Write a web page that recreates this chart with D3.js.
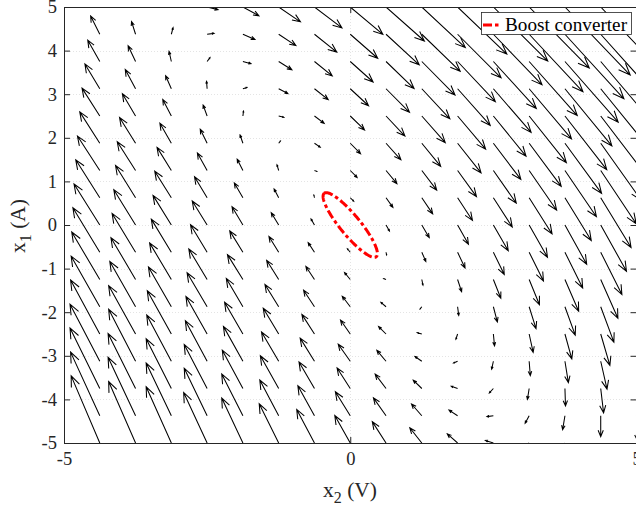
<!DOCTYPE html>
<html><head><meta charset="utf-8">
<script src="https://cdn.jsdelivr.net/npm/d3@7"></script>
<style>body{margin:0;background:#fff}svg{display:block}</style>
</head><body>
<svg id="chart" width="636" height="511"></svg>
<script>
// grid of the quiver plot (x2 horizontal, x1 vertical)
const gridX2 = [-5,-4.375,-3.75,-3.125,-2.5,-1.875,-1.25,-0.625,0,0.625,1.25,1.875,2.5,3.125,3.75,4.375,5];
const gridX1 = [-5,-4.375,-3.75,-3.125,-2.5,-1.875,-1.25,-0.625,0,0.625,1.25,1.875,2.5,3.125,3.75,4.375,5];
// arrow components (data units), rows follow gridX1 (bottom to top), columns follow gridX2
const arrowU = [
[-0.54,-0.50,-0.47,-0.44,-0.41,-0.37,-0.34,-0.31,-0.27,-0.24,-0.21,-0.18,-0.14,-0.11,-0.08,-0.05,-0.01],
[-0.55,-0.51,-0.48,-0.44,-0.40,-0.37,-0.33,-0.29,-0.26,-0.22,-0.18,-0.15,-0.11,-0.07,-0.04,0.00,0.04],
[-0.56,-0.52,-0.48,-0.44,-0.40,-0.36,-0.32,-0.27,-0.23,-0.19,-0.15,-0.11,-0.07,-0.03,0.01,0.05,0.09],
[-0.56,-0.52,-0.47,-0.43,-0.38,-0.34,-0.30,-0.25,-0.21,-0.16,-0.12,-0.07,-0.03,0.02,0.06,0.11,0.15],
[-0.56,-0.51,-0.47,-0.42,-0.37,-0.32,-0.27,-0.22,-0.17,-0.13,-0.08,-0.03,0.02,0.07,0.12,0.16,0.21],
[-0.56,-0.50,-0.45,-0.40,-0.35,-0.29,-0.24,-0.19,-0.14,-0.09,-0.03,0.02,0.07,0.12,0.18,0.23,0.28],
[-0.55,-0.49,-0.43,-0.38,-0.32,-0.27,-0.21,-0.15,-0.10,-0.04,0.02,0.07,0.13,0.18,0.24,0.30,0.35],
[-0.53,-0.47,-0.41,-0.35,-0.29,-0.23,-0.17,-0.11,-0.05,0.01,0.07,0.13,0.19,0.25,0.31,0.37,0.43],
[-0.51,-0.45,-0.38,-0.32,-0.26,-0.19,-0.13,-0.06,0.00,0.06,0.13,0.19,0.26,0.32,0.38,0.45,0.51],
[-0.49,-0.42,-0.35,-0.29,-0.22,-0.15,-0.08,-0.01,0.06,0.12,0.19,0.26,0.33,0.40,0.46,0.53,0.60],
[-0.46,-0.39,-0.32,-0.25,-0.17,-0.10,-0.03,0.04,0.12,0.19,0.26,0.33,0.40,0.48,0.55,0.62,0.69],
[-0.43,-0.35,-0.28,-0.20,-0.12,-0.05,0.03,0.10,0.18,0.26,0.33,0.41,0.48,0.56,0.64,0.71,0.79],
[-0.39,-0.31,-0.23,-0.15,-0.07,0.01,0.09,0.17,0.25,0.33,0.41,0.49,0.57,0.65,0.73,0.81,0.89],
[-0.35,-0.26,-0.18,-0.10,-0.01,0.07,0.16,0.24,0.32,0.41,0.49,0.57,0.66,0.74,0.82,0.91,0.99],
[-0.30,-0.21,-0.13,-0.04,0.05,0.14,0.23,0.31,0.40,0.49,0.58,0.66,0.75,0.84,0.93,1.01,1.10],
[-0.25,-0.16,-0.07,0.03,0.12,0.21,0.30,0.39,0.48,0.58,0.67,0.76,0.85,0.94,1.03,1.12,1.22],
[-0.19,-0.10,0.00,0.09,0.19,0.28,0.38,0.48,0.57,0.67,0.76,0.86,0.95,1.05,1.14,1.24,1.34]
];
const arrowV = [
[1.66,1.54,1.41,1.29,1.16,1.03,0.90,0.77,0.63,0.49,0.35,0.21,0.06,-0.09,-0.24,-0.39,-0.55],
[1.58,1.46,1.34,1.21,1.09,0.96,0.82,0.69,0.55,0.41,0.27,0.13,-0.02,-0.17,-0.32,-0.48,-0.63],
[1.51,1.39,1.26,1.14,1.01,0.88,0.75,0.61,0.47,0.33,0.19,0.05,-0.10,-0.25,-0.40,-0.56,-0.72],
[1.44,1.31,1.19,1.06,0.93,0.80,0.67,0.53,0.39,0.25,0.11,-0.04,-0.18,-0.33,-0.49,-0.64,-0.80],
[1.36,1.24,1.11,0.99,0.86,0.73,0.59,0.45,0.32,0.17,0.03,-0.12,-0.27,-0.42,-0.57,-0.72,-0.88],
[1.29,1.16,1.04,0.91,0.78,0.65,0.51,0.38,0.24,0.10,-0.05,-0.20,-0.35,-0.50,-0.65,-0.81,-0.97],
[1.21,1.09,0.96,0.84,0.70,0.57,0.44,0.30,0.16,0.02,-0.13,-0.28,-0.43,-0.58,-0.73,-0.89,-1.05],
[1.14,1.02,0.89,0.76,0.63,0.49,0.36,0.22,0.08,-0.06,-0.21,-0.36,-0.51,-0.66,-0.82,-0.97,-1.13],
[1.07,0.94,0.81,0.68,0.55,0.42,0.28,0.14,0.00,-0.14,-0.29,-0.44,-0.59,-0.74,-0.90,-1.06,-1.22],
[0.99,0.87,0.74,0.61,0.48,0.34,0.20,0.06,-0.08,-0.22,-0.37,-0.52,-0.67,-0.83,-0.98,-1.14,-1.30],
[0.92,0.79,0.66,0.53,0.40,0.26,0.13,-0.02,-0.16,-0.30,-0.45,-0.60,-0.75,-0.91,-1.06,-1.22,-1.39],
[0.84,0.72,0.59,0.46,0.32,0.19,0.05,-0.09,-0.24,-0.38,-0.53,-0.68,-0.83,-0.99,-1.15,-1.31,-1.47],
[0.77,0.64,0.51,0.38,0.25,0.11,-0.03,-0.17,-0.32,-0.46,-0.61,-0.76,-0.92,-1.07,-1.23,-1.39,-1.55],
[0.70,0.57,0.44,0.30,0.17,0.03,-0.11,-0.25,-0.39,-0.54,-0.69,-0.84,-1.00,-1.15,-1.31,-1.47,-1.64],
[0.62,0.49,0.36,0.23,0.09,-0.05,-0.19,-0.33,-0.47,-0.62,-0.77,-0.92,-1.08,-1.24,-1.39,-1.56,-1.72],
[0.55,0.42,0.29,0.15,0.02,-0.12,-0.26,-0.41,-0.55,-0.70,-0.85,-1.00,-1.16,-1.32,-1.48,-1.64,-1.80],
[0.47,0.34,0.21,0.08,-0.06,-0.20,-0.34,-0.48,-0.63,-0.78,-0.93,-1.08,-1.24,-1.40,-1.56,-1.72,-1.89]
];
const xTicks = [-5, 0, 5];
const yTicks = [-5,-4,-3,-2,-1,0,1,2,3,4,5];
// ellipse: centre and two conjugate semi-axis vectors (data units)
const ellipseCenter = [0, 0];
const ellipseAxisA = [-0.455, 0.727];
const ellipseAxisB = [0.135, 0.145];
const legendLabel = "Boost converter";

const FONT = "'Liberation Serif','Times New Roman',serif";
const AX = "#262626";
const svg = d3.select("#chart");
const L = 64, R = 636.5, T = 7, B = 443;
const x = d3.scaleLinear().domain([-5, 5]).range([L, R]);
const y = d3.scaleLinear().domain([-5, 5]).range([B, T]);

svg.append("defs").append("clipPath").attr("id", "clip")
  .append("rect").attr("x", L).attr("y", T).attr("width", R - L).attr("height", B - T);

// grid
const grid = svg.append("g").attr("stroke", "#e4e4e4").attr("stroke-width", 1).attr("stroke-dasharray", "1,2");
grid.selectAll("line.h").data(yTicks).join("line").attr("class", "h")
  .attr("x1", L).attr("x2", R).attr("y1", d => Math.round(y(d)) + 0.5).attr("y2", d => Math.round(y(d)) + 0.5);
grid.selectAll("line.v").data(xTicks).join("line").attr("class", "v")
  .attr("y1", T).attr("y2", B).attr("x1", d => Math.round(x(d)) + 0.5).attr("x2", d => Math.round(x(d)) + 0.5);

// quiver arrows
const arrows = [];
gridX1.forEach((g1, j) => gridX2.forEach((g2, i) => {
  arrows.push({x2: g2, x1: g1, u: arrowU[j][i], v: arrowV[j][i]});
}));
const HALF = 22 * Math.PI / 180;
function arrowPath(d) {
  const x0 = x(d.x2), y0 = y(d.x1), xe = x(d.x2 + d.u), ye = y(d.x1 + d.v);
  const dx = xe - x0, dy = ye - y0, len = Math.hypot(dx, dy);
  let p = `M${x0},${y0}L${xe},${ye}`;
  if (len > 0.2) {
    const h = Math.min(0.33 * len, 8 + 0.05 * len);
    const a = Math.atan2(dy, dx);
    const bx1 = xe - h * Math.cos(a - HALF), by1 = ye - h * Math.sin(a - HALF);
    const bx2 = xe - h * Math.cos(a + HALF), by2 = ye - h * Math.sin(a + HALF);
    p += `M${bx1},${by1}L${xe},${ye}L${bx2},${by2}`;
  }
  return p;
}
svg.append("g").attr("clip-path", "url(#clip)")
  .selectAll("path").data(arrows).join("path")
  .attr("d", arrowPath).attr("fill", "none").attr("stroke", "#000").attr("stroke-width", 1.05);

// ellipse
const ts = d3.range(0, 361, 2).map(t => t * Math.PI / 180);
const ellPts = ts.map(t => [
  ellipseCenter[0] + Math.cos(t) * ellipseAxisA[0] + Math.sin(t) * ellipseAxisB[0],
  ellipseCenter[1] + Math.cos(t) * ellipseAxisA[1] + Math.sin(t) * ellipseAxisB[1]]);
svg.append("path").attr("d", d3.line().x(p => x(p[0])).y(p => y(p[1]))(ellPts))
  .attr("fill", "none").attr("stroke", "#ff0000").attr("stroke-width", 3)
  .attr("stroke-dasharray", "9,3,3.5,3");

// axes
function styleAxis(g) {
  g.selectAll("path.domain").attr("stroke", AX).attr("stroke-width", 1);
  g.selectAll(".tick line").attr("stroke", AX).attr("stroke-width", 1);
  g.selectAll("text").attr("fill", AX).style("font-family", FONT).style("font-size", "18.5px");
}
svg.append("g").attr("transform", `translate(0,${B})`)
  .call(d3.axisBottom(x).tickValues(xTicks).tickSizeInner(-6).tickSizeOuter(0).tickPadding(9).tickFormat(d => String(d)))
  .call(styleAxis);
svg.append("g").attr("transform", `translate(0,${T})`)
  .call(d3.axisTop(x).tickValues(xTicks).tickSizeInner(-6).tickSizeOuter(0).tickFormat(""))
  .call(styleAxis);
svg.append("g").attr("transform", `translate(${L},0)`)
  .call(d3.axisLeft(y).tickValues(yTicks).tickSizeInner(-6).tickSizeOuter(0).tickPadding(7).tickFormat(d => String(d)))
  .call(styleAxis);
svg.append("g").attr("transform", `translate(${R},0)`)
  .call(d3.axisRight(y).tickValues(yTicks).tickSizeInner(-6).tickSizeOuter(0).tickFormat(""))
  .call(styleAxis);

// axis labels
const xl = svg.append("text").attr("x", 350).attr("y", 497).attr("text-anchor", "middle")
  .attr("fill", AX).style("font-family", FONT).style("font-size", "21.5px");
xl.append("tspan").text("x");
xl.append("tspan").attr("dy", 6).style("font-size", "16px").text("2");
xl.append("tspan").attr("dy", -6).text(" (V)");
const yl = svg.append("text").attr("transform", "translate(25,226) rotate(-90)").attr("text-anchor", "middle")
  .attr("fill", AX).style("font-family", FONT).style("font-size", "21.5px");
yl.append("tspan").text("x");
yl.append("tspan").attr("dy", 6).style("font-size", "16px").text("1");
yl.append("tspan").attr("dy", -6).text(" (A)");

// legend
const lg = svg.append("g");
lg.append("rect").attr("x", 481.5).attr("y", 12.5).attr("width", 150).attr("height", 22)
  .attr("fill", "#fff").attr("stroke", AX).attr("stroke-width", 0.8);
lg.append("line").attr("x1", 483).attr("x2", 501).attr("y1", 25).attr("y2", 25)
  .attr("stroke", "#ff0000").attr("stroke-width", 3).attr("stroke-dasharray", "9,3,3.5,3");
lg.append("text").attr("x", 505).attr("y", 31).attr("fill", "#000")
  .style("font-family", FONT).style("font-size", "19.2px").text(legendLabel);
</script>
</body></html>
